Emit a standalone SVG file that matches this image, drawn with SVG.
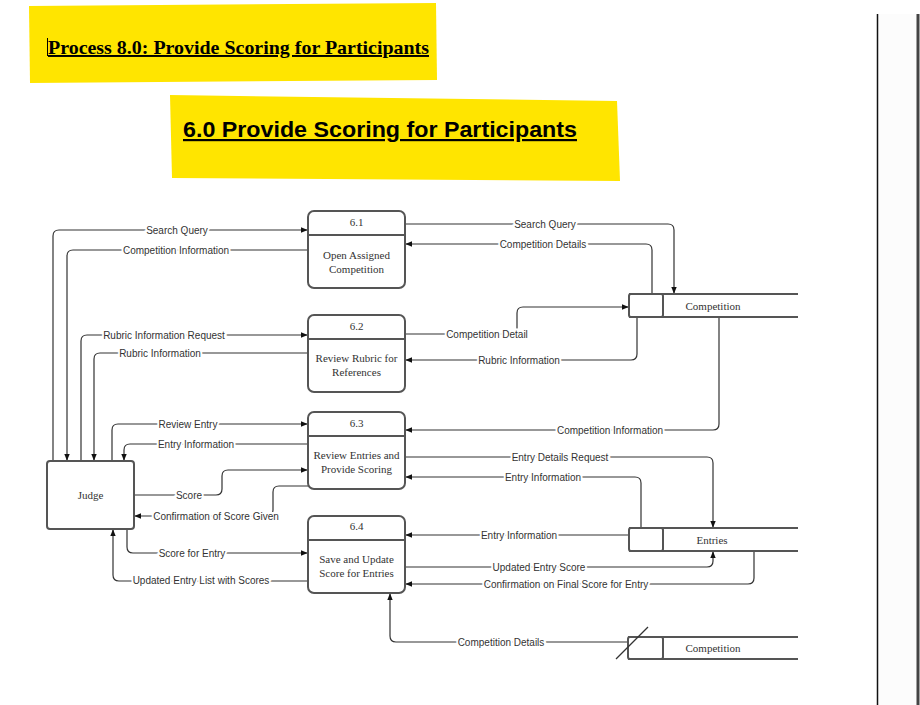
<svg xmlns="http://www.w3.org/2000/svg" width="920" height="705" viewBox="0 0 920 705">
<style>
.ln{fill:none;stroke:#333;stroke-width:1.2}
.box{fill:#fff;stroke:#555;stroke-width:2}
.lbl{font-family:"Liberation Sans",Arial,sans-serif;font-size:10px;fill:#333;text-anchor:middle;paint-order:stroke;stroke:#fff;stroke-width:4px}
.ptxt{font-family:"Liberation Serif","Times New Roman",serif;font-size:11px;fill:#333;text-anchor:middle}
</style>
<defs>
<marker id="ar" viewBox="0 0 10 10" refX="9" refY="5" markerWidth="7" markerHeight="7" markerUnits="userSpaceOnUse" orient="auto">
<path d="M0,1 L10,5 L0,9 z" fill="#111"/>
</marker>
</defs>
<rect width="920" height="705" fill="#fff"/>
<rect x="878" y="14" width="42" height="691" fill="#fcfcfc"/>
<line x1="877.5" y1="14" x2="877.5" y2="705" stroke="#111" stroke-width="1.5"/>
<line x1="918" y1="14" x2="918" y2="705" stroke="#444" stroke-width="3"/>

<g id="title1">
<path d="M29,6 L436,3 L437,80 L30,83 Z" fill="#FFE500"/>
<line x1="47.5" y1="38" x2="47.5" y2="56" stroke="#000" stroke-width="1"/>
<text x="48" y="54" font-family="'Liberation Serif','Times New Roman',serif" font-weight="bold" font-size="19.5" fill="#000" text-decoration="underline" textLength="381" lengthAdjust="spacingAndGlyphs">Process 8.0: Provide Scoring for Participants</text>
</g>
<g id="title2">
<path d="M170,95 L617,101 L620,181 L172,178 Z" fill="#FFE500"/>
<text x="183" y="137" font-family="'Liberation Sans',Arial,sans-serif" font-weight="bold" font-size="22" fill="#000" text-decoration="underline" textLength="394" lengthAdjust="spacingAndGlyphs">6.0 Provide Scoring for Participants</text>
</g>

<g id="connectors">
<path class="ln" d="M53,461 V236 Q53,230 59,230 H307" marker-end="url(#ar)"/>
<path class="ln" d="M308,250 H73 Q67,250 67,256 V460" marker-end="url(#ar)"/>
<path class="ln" d="M81,461 V341 Q81,335 87,335 H307" marker-end="url(#ar)"/>
<path class="ln" d="M308,353 H100 Q94,353 94,359 V460" marker-end="url(#ar)"/>
<path class="ln" d="M112,461 V430 Q112,424 118,424 H307" marker-end="url(#ar)"/>
<path class="ln" d="M308,444 H130 Q124,444 124,450 V460" marker-end="url(#ar)"/>
<path class="ln" d="M134,495 H216 Q222,495 222,489 V476 Q222,470 228,470 H307" marker-end="url(#ar)"/>
<path class="ln" d="M308,486 H279 Q273,486 273,492 V510 Q273,516 267,516 H135" marker-end="url(#ar)"/>
<path class="ln" d="M127,529 V547 Q127,553 133,553 H307" marker-end="url(#ar)"/>
<path class="ln" d="M308,581 H119 Q113,581 113,575 V530" marker-end="url(#ar)"/>
<path class="ln" d="M405,224 H668 Q674,224 674,230 V293" marker-end="url(#ar)"/>
<path class="ln" d="M652,294 V250 Q652,244 646,244 H406" marker-end="url(#ar)"/>
<path class="ln" d="M405,334 H517 V313 Q517,307 523,307 H628" marker-end="url(#ar)"/>
<path class="ln" d="M637,317 V354 Q637,360 631,360 H406" marker-end="url(#ar)"/>
<path class="ln" d="M719,317 V424 Q719,430 713,430 H406" marker-end="url(#ar)"/>
<path class="ln" d="M405,457 H707 Q713,457 713,463 V527" marker-end="url(#ar)"/>
<path class="ln" d="M641,528 V483 Q641,477 635,477 H406" marker-end="url(#ar)"/>
<path class="ln" d="M629,535 H406" marker-end="url(#ar)"/>
<path class="ln" d="M405,567 H707 Q713,567 713,561 V552" marker-end="url(#ar)"/>
<path class="ln" d="M754,551 V578 Q754,584 748,584 H406" marker-end="url(#ar)"/>
<path class="ln" d="M628,642 H396 Q390,642 390,636 V594" marker-end="url(#ar)"/>

<text class="lbl" x="177" y="233.5">Search Query</text>
<text class="lbl" x="176" y="253.5">Competition Information</text>
<text class="lbl" x="164" y="338.5">Rubric Information Request</text>
<text class="lbl" x="160" y="356.5">Rubric Information</text>
<text class="lbl" x="188" y="427.5">Review Entry</text>
<text class="lbl" x="196" y="447.5">Entry Information</text>
<text class="lbl" x="189" y="498.5">Score</text>
<text class="lbl" x="216" y="519.5">Confirmation of Score Given</text>
<text class="lbl" x="192" y="556.5">Score for Entry</text>
<text class="lbl" x="201" y="583.5">Updated Entry List with Scores</text>
<text class="lbl" x="545" y="227.5">Search Query</text>
<text class="lbl" x="543" y="247.5">Competition Details</text>
<text class="lbl" x="487" y="337.5">Competition Detail</text>
<text class="lbl" x="519" y="363.5">Rubric Information</text>
<text class="lbl" x="610" y="433.5">Competition Information</text>
<text class="lbl" x="560" y="460.5">Entry Details Request</text>
<text class="lbl" x="543" y="480.5">Entry Information</text>
<text class="lbl" x="519" y="538.5">Entry Information</text>
<text class="lbl" x="539" y="570.5">Updated Entry Score</text>
<text class="lbl" x="566" y="587.5">Confirmation on Final Score for Entry</text>
<text class="lbl" x="501" y="645.5">Competition Details</text>
</g>

<g id="p61">
<rect class="box" x="308" y="211" width="97" height="77" rx="6"/>
<line x1="308" y1="235" x2="405" y2="235" stroke="#555" stroke-width="2"/>
<text class="ptxt" x="356.5" y="226">6.1</text>
<text class="ptxt" x="356.5" y="259">Open Assigned</text>
<text class="ptxt" x="356.5" y="273">Competition</text>
</g>
<g id="p62">
<rect class="box" x="308" y="315" width="97" height="77" rx="6"/>
<line x1="308" y1="339" x2="405" y2="339" stroke="#555" stroke-width="2"/>
<text class="ptxt" x="356.5" y="330">6.2</text>
<text class="ptxt" x="356.5" y="362">Review Rubric for</text>
<text class="ptxt" x="356.5" y="376">References</text>
</g>
<g id="p63">
<rect class="box" x="308" y="412" width="97" height="77" rx="6"/>
<line x1="308" y1="436" x2="405" y2="436" stroke="#555" stroke-width="2"/>
<text class="ptxt" x="356.5" y="427">6.3</text>
<text class="ptxt" x="356.5" y="459">Review Entries and</text>
<text class="ptxt" x="356.5" y="473">Provide Scoring</text>
</g>
<g id="p64">
<rect class="box" x="308" y="516" width="97" height="77" rx="6"/>
<line x1="308" y1="540" x2="405" y2="540" stroke="#555" stroke-width="2"/>
<text class="ptxt" x="356.5" y="530">6.4</text>
<text class="ptxt" x="356.5" y="563">Save and Update</text>
<text class="ptxt" x="356.5" y="577">Score for Entries</text>
</g>
<g id="judge">
<rect class="box" x="47" y="461" width="87" height="68" rx="3"/>
<text class="ptxt" x="90.5" y="499">Judge</text>
</g>
<g id="competition1">
<line x1="629" y1="294" x2="798" y2="294" stroke="#555" stroke-width="2"/>
<line x1="629" y1="317" x2="798" y2="317" stroke="#555" stroke-width="2"/>
<rect x="629" y="294" width="34" height="23" rx="2" fill="#fff" stroke="#555" stroke-width="2"/>
<text class="ptxt" x="713" y="310">Competition</text>
</g>
<g id="entries">
<line x1="629" y1="528" x2="798" y2="528" stroke="#555" stroke-width="2"/>
<line x1="629" y1="551" x2="798" y2="551" stroke="#555" stroke-width="2"/>
<rect x="629" y="528" width="34" height="23" rx="2" fill="#fff" stroke="#555" stroke-width="2"/>
<text class="ptxt" x="712" y="544">Entries</text>
</g>
<g id="competition2">
<line x1="628" y1="637" x2="798" y2="637" stroke="#555" stroke-width="2"/>
<line x1="628" y1="659" x2="798" y2="659" stroke="#555" stroke-width="2"/>
<rect x="628" y="637" width="35" height="22" rx="2" fill="#fff" stroke="#555" stroke-width="2"/>
<line x1="616" y1="659" x2="648" y2="627" stroke="#333" stroke-width="1.2"/>
<text class="ptxt" x="713" y="652">Competition</text>
</g>
</svg>
